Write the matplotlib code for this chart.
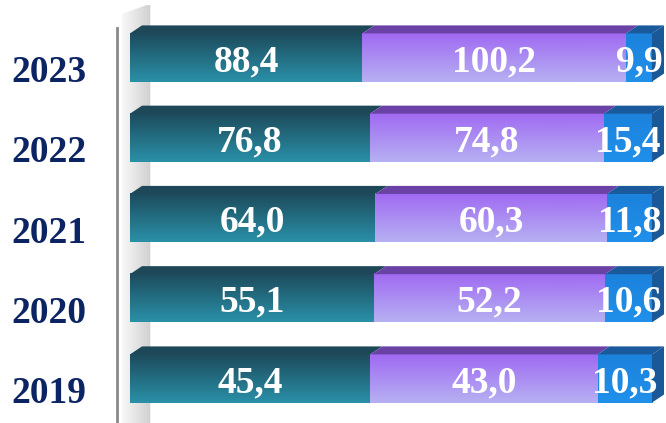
import numpy as np
import matplotlib
matplotlib.use('Agg')
import matplotlib.pyplot as plt
from matplotlib.colors import LinearSegmentedColormap
from matplotlib.patches import Polygon

years = ['2019', '2020', '2021', '2022', '2023']
s1 = [45.4, 55.1, 64.0, 76.8, 88.4]
s2 = [43.0, 52.2, 60.3, 74.8, 100.2]
s3 = [10.3, 10.6, 11.8, 15.4, 9.9]

# front gradient (top, bottom), top face colour
styles = [
    (('#1d4b5c', '#2a90a8'), '#1e4857'),
    (('#a06af2', '#b6b0f2'), '#6a42a6'),
    (('#1c82dc', '#2090ea'), '#1a5a9c'),
]
side_col = '#1a5898'

fig = plt.figure(figsize=(6.66, 4.23), dpi=100)
ax = fig.add_axes([0, 0, 1, 1])
ax.set_xlim(-24.9, 102.68)
ax.set_ylim(-0.5545, 4.7165)
ax.axis('off')

h = 0.6          # bar height
dx, dy = 2.3, 0.1  # 3d depth

# back wall shading
wall = np.tile(np.concatenate([np.linspace(0.97, 0.82, 40), [1.0]]), (10, 1))
ax.imshow(wall, cmap='gray', vmin=0, vmax=1, extent=(-1.6, 3.9, -0.56, 4.65),
          aspect='auto', zorder=0, interpolation='bilinear')
ax.add_patch(Polygon([(-1.6, 4.55), (3.9, 4.68), (3.9, 4.75), (-1.6, 4.75)],
                     closed=True, color='white', zorder=0.5))
ax.plot([-2.5, -2.5], [-0.6, 4.37], color='#8a8a8a', lw=2, zorder=1)

grad = np.linspace(0, 1, 64).reshape(-1, 1)
for i, y in enumerate(years):
    vals = [s1[i], s2[i], s3[i]]
    tot = sum(vals)
    left = 0.0
    b, t = i - h / 2, i + h / 2
    for j, v in enumerate(vals):
        w = v / tot * 100
        (c_top, c_bot), c_face = styles[j]
        cmap = LinearSegmentedColormap.from_list('g', [c_top, c_bot])
        ax.imshow(grad, cmap=cmap, extent=(left, left + w, b, t),
                  aspect='auto', zorder=2)
        top = [(left, t), (left + w, t), (left + w + dx, t + dy), (left + dx, t + dy)]
        ax.add_patch(Polygon(top, closed=True, color=c_face, lw=0, zorder=2))
        ax.text(left + w / 2, i - 0.05, f'{v:.1f}'.replace('.', ','),
                ha='center', va='center', color='white', fontsize=27,
                fontweight='bold', family='Liberation Serif', zorder=4)
        left += w
    ax.add_patch(Polygon([(100, b), (100, t), (100 + dx, t + dy), (100 + dx, b + dy)],
                         closed=True, color=side_col, lw=0, zorder=2))
    ax.text(-15.6, i - 0.19, y, ha='center', va='center', color='#0c2464',
            fontsize=27, fontweight='bold', family='Liberation Serif')

ax.set_xlim(-24.9, 102.68)
ax.set_ylim(-0.5545, 4.7165)
fig.savefig('out.png', dpi=100)
